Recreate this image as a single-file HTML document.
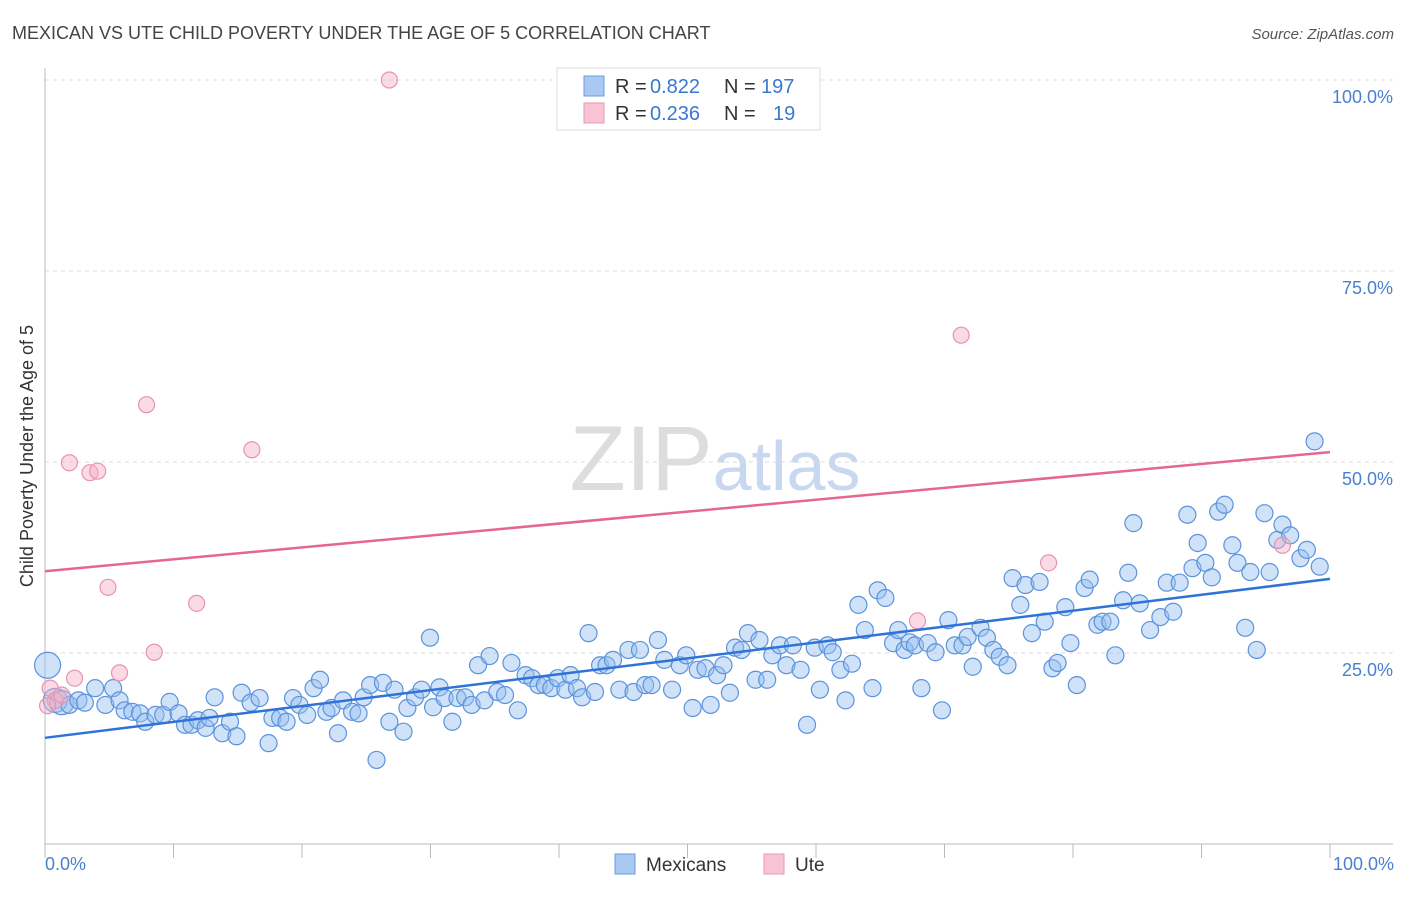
<!DOCTYPE html>
<html><head><meta charset="utf-8"><style>
body{margin:0;background:#fff;font-family:"Liberation Sans",sans-serif;}
svg text{font-family:"Liberation Sans",sans-serif;}
</style></head><body>
<svg id="chart" width="1406" height="892" viewBox="0 0 1406 892" xmlns="http://www.w3.org/2000/svg">
<text x="12" y="39" font-size="18" fill="#444">MEXICAN VS UTE CHILD POVERTY UNDER THE AGE OF 5 CORRELATION CHART</text>
<text x="1394" y="39" font-size="15" fill="#555" text-anchor="end" font-style="italic">Source: ZipAtlas.com</text>
<text x="715" y="490" font-size="92" text-anchor="middle" fill="#ddd" font-family="Liberation Serif">ZIP<tspan fill="#c8d8f0" font-family="Liberation Sans" font-size="70">atlas</tspan></text>
<g id="grid"></g>
<g id="axes"></g>
<g id="pts"></g>
<g id="trends"></g>
<text transform="translate(33,456) rotate(-90)" font-size="18" fill="#333" text-anchor="middle">Child Poverty Under the Age of 5</text>
<text x="45" y="870" font-size="18" fill="#4a7fd0">0.0%</text>
<text x="1394" y="870" font-size="18" fill="#4a7fd0" text-anchor="end">100.0%</text>
<g>
<rect x="557" y="68" width="263" height="62" fill="#fff" stroke="#ddd"/>
<rect x="584" y="76" width="20" height="20" fill="#a9c8f2" stroke="#6a9de0"/>
<rect x="584" y="103" width="20" height="20" fill="#f8c4d4" stroke="#e89ab2"/>
<text x="615" y="93" font-size="20" fill="#333">R =</text>
<text x="650" y="93" font-size="20" fill="#3a78d0">0.822</text>
<text x="724" y="93" font-size="20" fill="#333">N =</text>
<text x="761" y="93" font-size="20" fill="#3a78d0">197</text>
<text x="615" y="120" font-size="20" fill="#333">R =</text>
<text x="650" y="120" font-size="20" fill="#3a78d0">0.236</text>
<text x="724" y="120" font-size="20" fill="#333">N =</text>
<text x="773" y="120" font-size="20" fill="#3a78d0">19</text>
</g>
<g>
<rect x="615" y="854" width="20" height="20" fill="#a9c8f2" stroke="#6a9de0"/>
<text x="646" y="871" font-size="19" fill="#333">Mexicans</text>
<rect x="764" y="854" width="20" height="20" fill="#f8c4d4" stroke="#e89ab2"/>
<text x="795" y="871" font-size="19" fill="#333">Ute</text>
</g>
</svg>
<script>
const yTicks=[25,50,75,100];
const yTickLabels=["25.0%","50.0%","75.0%","100.0%"];
const xTicks=[0,10,20,30,40,50,60,70,80,90,100];
const blueX=[0.2,0.8,1.3,1.9,2.6,3.1,3.9,4.7,5.3,5.8,6.2,6.8,7.4,7.8,8.6,9.2,9.7,10.4,10.9,11.4,11.9,12.5,12.8,13.2,13.8,14.4,14.9,15.3,16.0,16.7,17.4,17.7,18.3,18.8,19.3,19.8,20.4,20.9,21.4,21.9,22.3,22.8,23.2,23.9,24.4,24.8,25.3,25.8,26.3,26.8,27.2,27.9,28.2,28.8,29.3,29.96,30.2,30.7,31.1,31.7,32.1,32.7,33.2,33.7,34.2,34.6,35.2,35.8,36.3,36.8,37.4,37.9,38.4,38.9,39.4,39.9,40.5,40.9,41.4,41.8,42.3,42.8,43.2,43.7,44.2,44.7,45.4,45.8,46.3,46.7,47.2,47.7,48.2,48.8,49.4,49.9,50.4,50.8,51.4,51.8,52.3,52.8,53.3,53.7,54.2,54.7,55.3,55.6,56.2,56.6,57.2,57.7,58.2,58.8,59.3,59.9,60.3,60.9,61.3,61.9,62.3,62.8,63.3,63.8,64.4,64.8,65.4,66.0,66.4,66.9,67.3,67.7,68.2,68.7,69.3,69.8,70.3,70.8,71.4,71.8,72.2,72.8,73.3,73.8,74.3,74.9,75.3,75.9,76.3,76.8,77.4,77.8,78.4,78.8,79.4,79.8,80.3,80.9,81.3,81.9,82.3,82.9,83.3,83.9,84.3,84.7,85.2,86.0,86.8,87.3,87.8,88.3,88.9,89.3,89.7,90.3,90.8,91.3,91.8,92.4,92.8,93.4,93.8,94.3,94.9,95.3,95.9,96.3,96.9,97.7,98.2,98.8,99.2];
const blueY=[23.4,18.8,18.5,18.2,18.8,18.5,20.4,18.2,20.4,18.8,17.5,17.3,17.1,16.0,16.9,16.9,18.6,17.1,15.6,15.6,16.2,15.2,16.5,19.2,14.5,16.0,14.1,19.8,18.5,19.1,13.2,16.5,16.5,16.0,19.1,18.2,16.9,20.4,21.5,17.3,17.8,14.5,18.8,17.3,17.1,19.2,20.8,11.0,21.1,16.0,20.2,14.7,17.8,19.2,20.2,27.0,17.9,20.5,19.1,16.0,19.1,19.2,18.2,23.4,18.8,24.6,19.9,19.5,23.7,17.5,22.1,21.7,20.8,20.8,20.4,21.7,20.2,22.1,20.4,19.2,27.6,19.9,23.4,23.4,24.1,20.2,25.4,19.9,25.4,20.8,20.8,26.7,24.1,20.2,23.4,24.7,17.8,22.8,23.0,18.2,22.1,23.4,19.8,25.7,25.4,27.6,21.5,26.7,21.5,24.7,26.0,23.4,26.0,22.8,15.6,25.7,20.2,26.0,25.1,22.8,18.8,23.6,31.3,28.0,20.4,33.2,32.2,26.3,28.0,25.4,26.4,26.0,20.4,26.3,25.1,17.5,29.3,26.0,26.0,27.1,23.2,28.3,27.0,25.4,24.5,23.4,34.8,31.3,33.9,27.6,34.3,29.1,23.0,23.7,31.0,26.3,20.8,33.5,34.6,28.7,29.1,29.1,24.7,31.9,35.5,42.0,31.5,28.0,29.7,34.2,30.4,34.2,43.1,36.1,39.4,36.8,34.9,43.5,44.4,39.1,36.8,28.3,35.6,25.4,43.3,35.6,39.8,41.8,40.4,37.4,38.5,52.7,36.3];
const pinkX=[26.8,71.3,7.9,16.1,1.9,3.5,4.1,4.9,11.8,8.5,5.8,2.3,78.1,67.9,96.3,0.4,0.8,0.2,1.3];
const pinkY=[100,66.6,57.5,51.6,49.9,48.6,48.8,33.6,31.5,25.1,22.4,21.7,36.8,29.2,39.1,20.4,18.8,18.1,19.5];
const blueTrend=[13.9,34.7];
const pinkTrend=[35.7,51.3];
const NS="http://www.w3.org/2000/svg";
const X0=45,X1=1330,Y0=844,YS=7.64;
const sx=v=>X0+(X1-X0)*v/100, sy=v=>Y0-YS*v;
function mk(tag,attrs,parent){const e=document.createElementNS(NS,tag);for(const k in attrs)e.setAttribute(k,attrs[k]);parent.appendChild(e);return e;}
const grid=document.getElementById('grid'),axes=document.getElementById('axes'),pts=document.getElementById('pts'),tr=document.getElementById('trends');
yTicks.forEach((t,i)=>{
 const l=mk('line',{x1:X0,x2:1393,y1:sy(t),y2:sy(t),stroke:'#ddd','stroke-dasharray':'4,4'},grid);
 
 
 const tx=mk('text',{x:1393,y:sy(t)+23,'font-size':18,fill:'#4a7fd0','text-anchor':'end'},grid);
 tx.textContent=yTickLabels[i];
 
 
});
const ax=mk('line',{x1:X0,x2:1393,y1:Y0,y2:Y0,stroke:'#bbb'},axes);


const ay=mk('line',{x1:X0,x2:X0,y1:68,y2:Y0,stroke:'#bbb'},axes);


xTicks.forEach(t=>{
 const l=mk('line',{x1:sx(t),x2:sx(t),y1:Y0,y2:Y0+14,stroke:'#bbb'},axes);
 
 
});
blueX.forEach((x,i)=>{
 const big=(i<3);
 const c=mk('circle',{cx:sx(x),cy:sy(blueY[i]),r:big?(i==0?13:12):8.5,fill:'rgba(150,190,240,0.45)',stroke:'#5b93dc','stroke-width':1.2},pts);
 
 
});
pinkX.forEach((x,i)=>{
 const c=mk('circle',{cx:sx(x),cy:sy(pinkY[i]),r:8,fill:'rgba(245,175,198,0.45)',stroke:'#e893ae','stroke-width':1.2},pts);
 
 
});
const bl=mk('line',{x1:sx(0),x2:sx(100),y1:sy(blueTrend[0]),y2:sy(blueTrend[1]),stroke:'#2f73d8','stroke-width':2.5},tr);


const pl=mk('line',{x1:sx(0),x2:sx(100),y1:sy(pinkTrend[0]),y2:sy(pinkTrend[1]),stroke:'#e5668f','stroke-width':2.5},tr);


</script>
</body></html>
